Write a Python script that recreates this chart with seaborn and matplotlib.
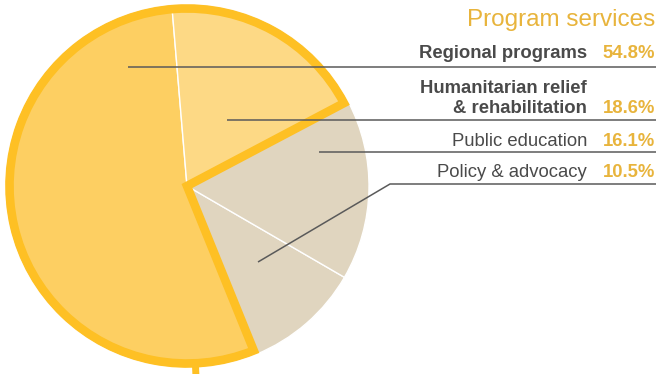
import numpy as np
import matplotlib
matplotlib.use("Agg")
import matplotlib.pyplot as plt
from matplotlib.patches import Wedge
import seaborn as sns

# ---- data ----
categories = ["Regional programs", "Policy & advocacy", "Public education",
              "Humanitarian relief\n& rehabilitation"]
shares = [54.8, 10.5, 16.1, 18.6]
pct_labels = ["54.8%", "10.5%", "16.1%", "18.6%"]
bold_flags = [True, False, False, True]
title = "Program services"

# ---- style ----
sns.set_theme(style="white")
plt.rcParams["font.family"] = ["Liberation Sans", "DejaVu Sans"]
colors = ["#FDCF62", "#E0D5BF", "#E0D5BF", "#FDD985"]
outline_color = "#FEC024"
text_color = "#4A4A4A"
gold = "#E8B43C"
line_color = "#5A5A5A"

W, H = 658, 374
fig = plt.figure(figsize=(W / 100, H / 100), dpi=100)
ax = fig.add_axes([0, 0, 1, 1])
ax.set_xlim(0, W)
ax.set_ylim(0, H)
ax.set_aspect("equal")
ax.axis("off")

def Y(py):
    return H - py

cx, cy, R = 187, Y(186), 182
start = 94.8
ax.pie(shares, colors=colors, startangle=start, counterclock=True,
       center=(cx, cy), radius=R, frame=True,
       wedgeprops=dict(edgecolor="white", linewidth=1.0))
ax.set_xlim(0, W)
ax.set_ylim(0, H)
ax.axis("off")

# outline around program wedges (regional + humanitarian)
ang = start + np.concatenate([[0], np.cumsum(shares)]) * 3.6
theta_a = ang[3] - 360  # start of humanitarian
theta_b = ang[1]        # end of regional
ax.add_patch(Wedge((cx, cy), R - 4.5, theta_a, theta_b, fill=False,
                   edgecolor=outline_color, linewidth=6.2, joinstyle="miter",
                   zorder=5))
# small tick at bottom
tick_ang = np.deg2rad(-87.3)
ax.plot([cx + (R - 2) * np.cos(tick_ang), cx + (R + 12) * np.cos(tick_ang)],
        [cy + (R - 2) * np.sin(tick_ang), cy + (R + 12) * np.sin(tick_ang)],
        color=outline_color, lw=5, solid_capstyle="butt", zorder=4)

# ---- text & leaders ----
ax.text(655, Y(26), title, ha="right", va="baseline", fontsize=17.5,
        color=gold)

label_x, pct_x = 587, 655
baselines = [58, 177, 146, 113]
leader_y = [67, 184, 152, 120]
anchors = [(128, 67), (258, 262), (319, 152), (227, 120)]
elbows = [None, (390, 184), None, None]
for i, cat in enumerate(categories):
    fw = "bold" if bold_flags[i] else "normal"
    ax.text(label_x, Y(baselines[i]), cat, ha="right", va="baseline",
            fontsize=13.3, fontweight=fw, color=text_color,
            linespacing=1.25, multialignment="right", zorder=6)
    ax.text(pct_x, Y(baselines[i]), pct_labels[i], ha="right", va="baseline",
            fontsize=13.3, fontweight="bold", color=gold, zorder=6)
    pts = [anchors[i]]
    if elbows[i]:
        pts.append(elbows[i])
    pts.append((656, leader_y[i]))
    xs = [p[0] for p in pts]
    ys = [Y(p[1]) for p in pts]
    ax.plot(xs, ys, color=line_color, lw=1.1, zorder=7,
            solid_capstyle="butt")

fig.savefig("out.png", dpi=100)
